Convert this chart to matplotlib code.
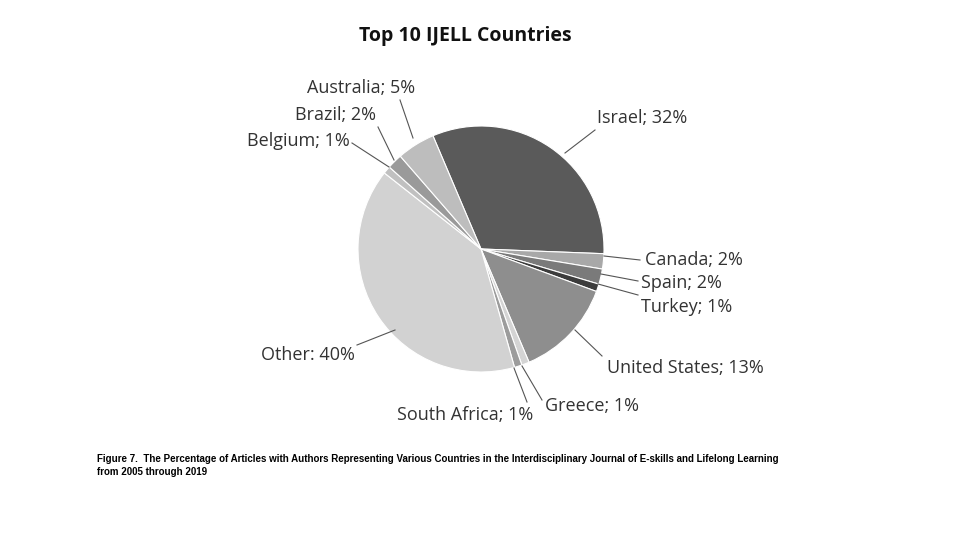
import matplotlib
matplotlib.use("Agg")
import matplotlib.pyplot as plt

countries = ["Israel", "Canada", "Spain", "Turkey", "United States", "Greece",
             "South Africa", "Other", "Belgium", "Brazil", "Australia"]
values = [32, 2, 2, 1, 13, 1, 1, 40, 1, 2, 5]
colors = ["#5a5a5a", "#a8a8a8", "#7a7a7a", "#3c3c3c", "#8e8e8e", "#d4d4d4",
          "#9c9c9c", "#d2d2d2", "#c0c0c0", "#9a9a9a", "#bdbdbd"]

# label text positions (pixel) and leader-line endpoints
label_pos = {
    "Israel": (597, 118, "left", (595, 130), (565, 153)),
    "Canada": (645, 260, "left", (640, 260), (604, 256)),
    "Spain": (641, 283, "left", (638, 281), (601, 274)),
    "Turkey": (641, 307, "left", (638, 295), (598, 284)),
    "United States": (607, 368, "left", (602, 356), (575, 330)),
    "Greece": (545, 406, "left", (542, 400), (522, 366)),
    "South Africa": (533, 415, "right", (527, 402), (514, 368)),
    "Other": (355, 355, "right", (357, 345), (395, 330)),
    "Belgium": (350, 141, "right", (352, 143), (389, 167)),
    "Brazil": (376, 115, "right", (378, 127), (394, 160)),
    "Australia": (415, 88, "right", (400, 100), (413, 138)),
}

fig = plt.figure(figsize=(9.6, 5.4), dpi=100)
ax = fig.add_axes([0, 0, 1, 1])
ax.set_xlim(0, 960)
ax.set_ylim(0, 540)
ax.set_aspect("equal")
ax.axis("off")

H = 540
ax.pie(values, colors=colors, startangle=113, counterclock=False,
       center=(481, H - 249), radius=123,
       wedgeprops=dict(edgecolor="white", linewidth=0.8))
ax.set_xlim(0, 960)
ax.set_ylim(0, 540)

font = "Open Sans"
for c, v in zip(countries, values):
    x, y, ha, p1, p2 = label_pos[c]
    sep = ":" if c == "Other" else ";"
    ax.text(x, H - y, f"{c}{sep} {v}%", ha=ha, va="center", fontsize=13,
            family=font, color="#333333")
    ax.plot([p1[0], p2[0]], [H - p1[1], H - p2[1]], color="#555555", lw=0.8)

ax.text(465, H - 36, "Top 10 IJELL Countries", ha="center", va="center",
        fontsize=14, fontweight="bold", family=font, color="#111111")

ax.text(97, H - 459, "Figure 7.  The Percentage of Articles with Authors Representing Various Countries in the Interdisciplinary Journal of E-skills and Lifelong Learning",
        ha="left", va="center", fontsize=7, fontweight="bold", family="Liberation Sans")
ax.text(97, H - 472, "from 2005 through 2019", ha="left", va="center",
        fontsize=7, fontweight="bold", family="Liberation Sans")

fig.savefig("out.png", dpi=100)
